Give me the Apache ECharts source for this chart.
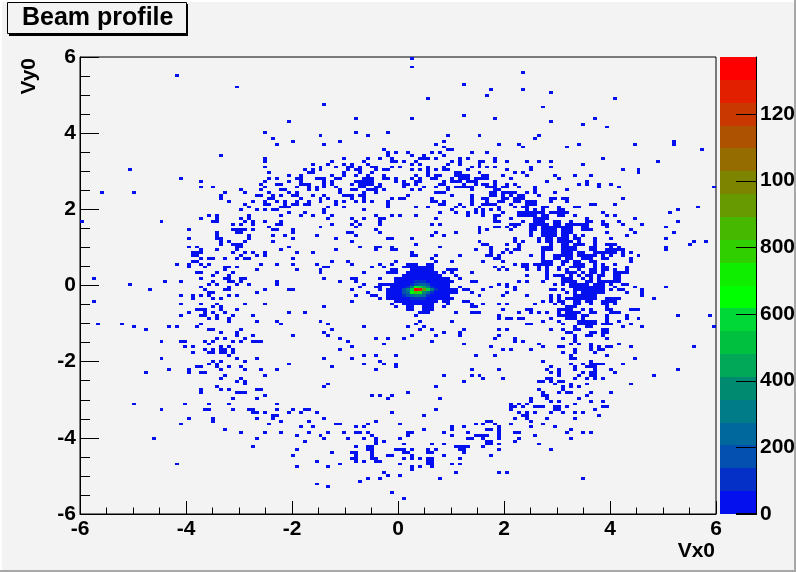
<!DOCTYPE html>
<html><head><meta charset="utf-8">
<style>html,body{margin:0;padding:0;background:#f3f3f3}#c{width:796px;height:572px}</style>
<script src="https://cdn.jsdelivr.net/npm/echarts@6/dist/echarts.min.js"></script>
</head><body><div id="c"></div>
<script>
const axisMin = -6, axisMax = 6, binCount = 160;
const colorMax = 1371;
const tickStep = 2;
const colorTickStep = 200;
const colorTicks = [0, 200, 400, 600, 800, 1000, 1200];
const titleText = 'Beam profile', xName = 'Vx0', yName = 'Vy0';
const palette = ['#0510ee','#0430c8','#0450b0','#00689c','#007b88','#008a70','#00a858','#00c040','#00d838','#00ff00','#10ee00','#30d000','#46b800','#669a00','#7d8500','#946c00','#ac5200','#c83800','#e22000','#ff0000'];

// Occupied histogram bins: [Vy0 bin, [Vx0 bins]]
const topArcRows = [
[159,[83]],[156,[83]],[150,[96]],[148,[103]],[146,[102]],[145,[87]],[143,[61]],[139,[96]],[138,[69,83,104]],[137,[52]],
[133,[46,69,77]],[132,[60,72,92,100]],[131,[48]],[130,[53,65,91]],[129,[49,61,89,105]],[128,[91]],[127,[76,92,93]],
[126,[77,79,82,88,90,98,102]],[125,[77,83,86,91]],[124,[46,66,72,75,78,85,86,87,89,95,97,104]],
[123,[46,63,71,78,79,81,84,93,95,100,101,104]],[122,[58,62,66,68,72,83,85,92,95,100]],
[121,[46,60,64,67,68,70,73,74,78,80,87,91,98,100,102,104]],[120,[56,58,60,67,69,70,74,76,77,83,85,87,89,91,92,97]],
[119,[47,57,58,66,70,73,87,94,95,100]],[118,[52,55,63,66,69,72,76,84,87,89,90,94,95,96,97,101,102]],
[117,[47,49,54,55,59,60,61,64,65,71,72,73,76,77,79,83,85,88,89,93,95,96,97,99,100,101,102]],
[116,[46,52,55,61,63,69,70,71,72,73,79,81,84,85,91,93,94,95,97,98,99,104]],
[115,[49,50,55,56,57,61,63,68,70,71,72,73,75,81,82,84,90,91,96,99,101,102,104]],
[114,[46,54,57,59,61,64,70,71,74,75,81,86,89,92,94,95,96,97,98,102,103,104]],
[113,[45,50,51,57,59,65,68,69,72,73,74,76,83,85,92,98,104,105]],[112,[47,52,54,65,71,74,89,90,91,103,104]],
[111,[45,48,50,53,54,58,61,66,67,68,70,71,82,93,98,103,104]],[110,[47,48,55,60,62,68,71,78,80,81,88,98,101,102]],
[109,[46,49,51,54,57,60,64,66,69,71,73,77,88,89,91,98,102,105]],[108,[46,47,51,53,54,56,57,64,77,90,91,95,98,101,102,103,104]],
[107,[50,51,52,62,66,77,84,87,94,96,100,105]],[106,[48,49,61,71,93,99,101,103,105]]
];
const farLeftRows = [
[153,[24]],[149,[39]],[125,[35]],[120,[12]],[117,[25]],[116,[30]],[115,[45]],[114,[30,33]],[113,[40,45]]
];
const rightLobeRows = [
[154,[111]],[148,[111]],[147,[118]],[145,[134]],[142,[116]],[138,[129]],[137,[118]],[136,[126]],[135,[132]],[132,[115]],[131,[114]],
[130,[149]],[129,[105,110,125,139,149]],[128,[111,122]],[127,[156]],[124,[131]],[123,[107,112,115,118,145]],[122,[126]],[121,[113,118]],
[120,[107,113,136,140]],[119,[109,111,140]],[118,[106,112,119,124,128]],[117,[108,120]],[116,[117,127]],
[115,[107,109,125,127,130,133]],[114,[106,107,110,114,130,135,159]],[113,[114,122]],[112,[106,107,108,109,112,114,119]],
[111,[106,108,110,111,115]],[110,[106,107,109,110,111,118,119,121,122,136]],[109,[105,106,109,110,112,113,114,118,122]],
[108,[108,112,113,114,128,129,134]],[107,[109,111,112,116,117,120,124,125,155]],[106,[105,112,114,116,120,121,150]],
[105,[106,110,111,112,113,114,115,116,118,119,120,121,122,131,148]],[104,[110,111,112,113,114,116,117,120,121,124,132,134]],
[103,[108,114,115,116,117,127,139]],[102,[105,111,114,115,116,119,120,123,127,128,131,135,150]],
[101,[108,109,110,113,114,115,116,117,119,120,122,123,124,125,126,127,131,132,136,141]],
[100,[107,109,113,114,116,117,118,119,120,121,122,123,126,127,132,147]],
[99,[108,113,114,116,117,118,119,121,122,123,126,127,128,138]],[98,[113,116,117,118,119,121,122,123,132,139,149]],
[97,[113,116,117,118,119,121,122,124,126,137]],[96,[109,115,117,118,120,121,122,124,125,129,133,147]],
[95,[109,111,115,117,118,120,121,122,123,125,129,154,157]],[94,[107,110,118,121,122,124,125,126,129,132,133,134,153]],
[93,[110,116,117,118,121,122,123,124,128,129,133,135,147]],
[92,[107,109,110,116,117,118,121,122,123,124,128,129,132,133,134,135,136,147]],
[91,[106,108,116,121,122,123,125,126,129,130,131,132,133,134,136,138]],
[90,[113,116,119,120,121,122,123,125,126,127,128,129,131,133,136,140]],
[89,[116,119,120,122,123,126,127,128,131,132,138]],[88,[106,116,117,118,121,122,124,125,128,129,138]],
[87,[109,111,112,114,115,116,117,118,121,124,125,126,129,131,134]],[86,[106,111,112,115,117,120,123,124,125,126,129,131,132,137]],
[85,[107,112,115,117,120,122,125,128,129,131,132,134,137]],[84,[117,122,123,124,126,128,129,131,134,135,136,137]],
[83,[112,117,119,120,121,123,125,127,128,130,131,134,135]],[82,[117,121,122,123,126,128,130,134,135]],
[81,[110,112,116,121,122,123,124,127,128,130,131,132,133,134,135]],[80,[105,107,119,121,123,124,125,126,127,129,130,131,133,136,137]],
[79,[107,109,123,124,125,126,127,128,129,130,131,134,139,147]],[78,[109,118,119,121,124,125,126,127,128,129,130,131,133,135,136,141]],
[77,[107,122,124,126,127,128,129,130,131,137,141]],[76,[106,112,118,120,124,125,126,127,128,129,141]],
[75,[118,120,122,123,124,125,126,127,128,129,132,133,134,135,144]],[74,[116,118,120,121,124,125,127,128,131,132,133,134]],
[73,[105,107,114,119,121,124,125,128,131,132,134]],[72,[122,123,124,132]],
[71,[106,112,113,120,121,122,123,126,128,132,133,138,139,140]],[70,[110,113,115,117,120,122,123,124,125,128,129,133,134,135]],
[69,[105,120,121,122,123,124,126,127,132,137,150,158]],[68,[107,108,110,111,118,122,123,124,126,132,137,140]],
[67,[116,120,125,126,127,128,129,132,135]],[66,[112,113,121,125,126,127,128,129,131,132,133,138]],
[65,[124,127,128,136,141,159]],[64,[105,107,118,121,124,125,131,132]],[63,[122,123,128,129,131,132]],[62,[105,124,127,128,131]],
[61,[109,121,124,132]],[60,[109,111,124]],[59,[115,123,125,128,135]],[58,[116,120,121,128,130,132,133,138,154]],
[57,[106,108,113,124,128,130,131]],[56,[121,124,129]],[55,[123,132]],[54,[123,124,139]],[53,[116,128]],
[52,[123,126,128,129,130,131,136]],[51,[118,124,127,128,129]],[50,[105,117,120,124,129,133,150]],[49,[118,120,126,128,129,134]],
[48,[120,125,128,129,144]],[47,[106,117,118,124,127,129,131]],[46,[115,116,118,120,121]],[45,[119,123,127,138]],[44,[121,123,125]],
[43,[115,121]],[42,[116,120,122,123,128,133]],[41,[116,117,127]],[40,[113,117,125]],[39,[113,118,120,128,131]],[38,[108,110,112,124]],
[37,[108,109,111,114,115,116,119,120,122,131,132]],[36,[108,119,120,129]],[35,[114,118,121,124,126]],[34,[130]],[33,[117,124]],
[32,[113]],[31,[116]],[30,[113,119]],[29,[123]],[28,[122,126,128]],[27,[114]],[26,[123]],[24,[115]],[22,[118]],[12,[126]]
];
const bottomArcRows = [
[42,[82]],[41,[73,75,78]],[40,[77,90,113]],[39,[113]],[38,[108,110,112]],[37,[109,111,114,115]],[36,[56,57,89,108]],
[35,[55,59,78,110,112,114]],[34,[86,111,112]],[33,[61,109,112]],[32,[57,74,102,103,113]],[31,[64,65,72,80,99,101,104,108]],
[30,[55,58,69,71,93,96,105,113]],[29,[86,93,102,103,105]],[28,[57,62,66,69,70,72,82,83,91,97,105,109,110]],
[27,[60,73,82,93,99,100,101,102,105,114]],[26,[61,67,71,74,80,97,98,101,105,110]],[25,[56,74,76,102,103,109]],
[24,[74,81,88,91,102,103,105,115]],[23,[69,72,73,94,95,96,97,101]],[22,[72,73,79,80,81,83,87,89,95,96,105]],
[21,[63,68,69,73,81,82,87,88,96]],[20,[69,73,77,78,83,91,103]],[19,[68,69,73,74,81,83,85,87,88,95]],
[18,[59,69,71,74,75,87,88]],[17,[65,80,87,88,93,95]],[16,[62,83,85,88]],[15,[83]],[14,[76,94,105,107]],[13,[77,80]],
[12,[72,75,90]],[11,[70]],[10,[59]],[9,[62]],[7,[78]],[5,[81]]
];
const leftLowerRows = [
[56,[28,32,33,35,36,38]],[55,[37]],[54,[20,39,44]],[53,[33,35,41]],[52,[32,34,52]],[51,[29,30,34,37,40]],[50,[22,27,35,41,45,49]],
[49,[16,27,30,31]],[48,[36,46]],[47,[35,40]],[46,[39,41]],[45,[41]],[44,[34]],[43,[30,35,37,44,45]],[42,[30,39,40,41]],[41,[46]],
[40,[38,44]],[38,[13,26,32,37,49]],[36,[20,31,32,38,42,43,49,53,56,57]],[35,[43,44,46,52,55]],[34,[48,49]],[33,[27,33,44,48]],
[32,[33,50,57]],[31,[25,47]],[30,[55]],[29,[36]],[28,[40,46,50,57]],[27,[54]],[26,[18,44]],[25,[56]],[23,[43]],[22,[54]],[20,[53]],
[17,[24]],[16,[54]]
];
const leftUpperRows = [
[112,[5,13,36,41]],[111,[35,44]],[110,[35]],[109,[37,43]],[108,[41]],[107,[42]],[106,[40,44,46,48,49]],[105,[52,56]],
[104,[32,34,42,50,55]],[103,[30,34,40,42]],[102,[0,20,33,34,41,43,46,50]],[101,[38,40,43,49,50]],[100,[47]],
[99,[27,38,39,40,41,43,48,49,53]],[98,[34,39,40,53]],[97,[34,42,48,51]],[96,[27,34,35,42,53]],[95,[35,37,41,48]],
[94,[35,38,39,40]],[93,[27,29,39,40,52]],[92,[30,34,39,50]],[91,[28,29,30,38,41,43,46,54]],[90,[28,29,40,44,46]],
[89,[30,32,33,36,39,41,42,53]],[88,[28,29]],[87,[24,27,30,32,45,49,53]],[86,[27,31,36,37,39]],[85,[36,44,54]],[84,[29,30,34,38]],
[83,[33,37]],[82,[3,30,36,37,40,41]],[81,[21,25,33,37,38,40,49]],[80,[12,32,34,39,42,49]],[79,[30,37]],[78,[17,31,36,37,46,52,53]],
[77,[32,33,44]],[76,[25,28,30,32,37,39]],[75,[28,33,35]],[74,[3]],[73,[25,30,34,41,46]],[72,[33,35]],[71,[29,30,31,35,39]],
[70,[27,31,33,36,52,56]],[69,[25,30,31,34,38,43]],[68,[32,34,37]],[67,[37,44,49]],[66,[4,10,30,50]],[65,[13,22,24,29]],
[64,[16,32,33,40]],[63,[35,39]],[62,[39,43,53]],[61,[34,36,41]],[60,[20,25,26,31,33,38,40,43,44,45]],[59,[32]],[58,[26,28,35,37]],
[57,[31,33,35,36,38]],[56,[28,32]],[55,[37]],[54,[20,39,44]]
];
const centerRows = [
[105,[56,61,90,94,97,99,101]],[104,[58,63,74,78,80,84,97,101,104,105]],[103,[62,68,71,75,76,89,104]],[102,[69,75,104,105]],
[101,[63,68,70,75,88,90]],[100,[60,69,100,104,105]],[99,[74,100,102]],[98,[67,68,75,89,94,100]],[97,[59,69,88,91]],[96,[64,77,78,83]],
[95,[68,100]],[94,[84,101,102]],[93,[70,74,75,78,90,103]],[92,[64,74,78,79,99,103]],[91,[58,83,103]],[90,[83,84,89,95,102,103,105]],
[89,[88,104,105]],[88,[63,67,79,89,93,101]],[87,[59,68,75,78,82,83,84,88]],[86,[61,62,73,76,81,82,104]],
[85,[60,78,79,92,93,94,105]],[84,[60,71,77,78,79,91,93,98]],[83,[94]],[82,[61,68,69,75,79,95]],[81,[65,69,79,98,99]],[80,[71,75,76,77,78,79,105]],
[79,[70,74,75,95,103]],[78,[68,75,94,96,97,101]],[77,[72,98]],[76,[69,73,74,100]],[75,[75,92,93]],[74,[68,91,92,96,97]],
[73,[78,92,98,101,105]],[72,[61,79,91,98,99]],[70,[56,94,98,99,100]],[69,[84,105]],[68,[105]],[67,[60,85,93]],[66,[62,84]],
[65,[71,82,86]],[64,[63,85,88,96,105]],[63,[61,91,95]],[62,[62,83,89,95,105]],[61,[65,74,77,81,104]],[60,[67,88]],[59,[76,96]],
[58,[68,103]],[57,[65]],[55,[71,74,79,99,104]],[54,[61,68]],[53,[75]],[52,[71,76,79]],[51,[63,79]],[50,[74,98,105]],
[48,[91,98,100]],[47,[101]],[46,[96]],[45,[62]],[44,[61,89]]
];
// Solid low-count block round the peak: [Vy0 bin, first Vx0 bin, last Vx0 bin]
const coreBlockRuns = [
[87,87,88],[86,83,88],[85,83,88],[84,82,89],[83,81,90],[82,80,92],[81,80,93],[80,80,92],[79,78,92],[78,77,93],[77,77,94],[76,77,92],[75,77,91],[74,79,89],[73,81,88],[72,82,83],[72,86,88],[71,82,83],[71,86,88],[70,85,87]
];
// Bright centre: [Vy0 bin, Vx0 bin, count]
const coreCounts = [
[81,84,80],[81,85,90],[81,86,90],
[80,83,90],[80,84,200],[80,85,270],[80,86,270],[80,87,180],
[79,82,110],[79,83,300],[79,84,620],[79,85,560],[79,86,420],[79,87,280],[79,88,80],
[78,81,160],[78,82,330],[78,83,580],[78,84,1371],[78,85,1300],[78,86,900],[78,87,600],[78,88,320],[78,89,130],
[77,81,150],[77,82,250],[77,83,680],[77,84,760],[77,85,720],[77,86,400],[77,87,210],[77,88,100],
[76,81,90],[76,82,140],[76,83,240],[76,84,280],[76,85,300],[76,86,220],[76,87,120],
[75,83,90],[75,84,100],[75,85,110],[75,86,80]
];

const binWidth = (axisMax - axisMin) / binCount;
const bandWidth = colorMax / palette.length;
const cells = new Map();
function put(iy, ix, n) { const k = ix * 1000 + iy; if (!cells.has(k) || cells.get(k)[2] < n) cells.set(k, [axisMin + (ix + 0.5) * binWidth, axisMin + (iy + 0.5) * binWidth, n]); }
[topArcRows, farLeftRows, rightLobeRows, bottomArcRows, leftLowerRows, leftUpperRows, centerRows].forEach(g => g.forEach(r => r[1].forEach(ix => put(r[0], ix, 1))));
coreBlockRuns.forEach(r => { for (let ix = r[1]; ix <= r[2]; ix++) put(r[0], ix, 20); });
coreCounts.forEach(r => put(r[0], r[1], r[2]));
const cellData = Array.from(cells.values());
const bandData = palette.map((c, i) => [i * bandWidth, (i + 1) * bandWidth, i]);
const bandIndex = v => Math.min(palette.length - 1, Math.floor(v / bandWidth));

const font = 'Liberation Sans';
const black = '#000';
const labelStyle = { color: black, fontFamily: font, fontWeight: 'bold', fontSize: 21 };

const chart = echarts.init(document.getElementById('c'), null, { renderer: 'canvas' });
chart.setOption({
  animation: false,
  backgroundColor: '#f3f3f3',
  title: { text: titleText, left: 22, top: 6, padding: 0, textStyle: { color: black, fontFamily: font, fontWeight: 'bold', fontSize: 25 }, z: 20 },
  grid: [
    { left: 80, top: 57, width: 636, height: 457, outerBoundsMode: 'none', show: true, borderColor: black, borderWidth: 1, backgroundColor: 'transparent' },
    { left: 720, top: 57, width: 36, height: 457, outerBoundsMode: 'none' }
  ],
  xAxis: [
    { type: 'value', gridIndex: 0, min: axisMin, max: axisMax, interval: tickStep, name: xName,
      nameLocation: 'end', nameGap: -1, nameTextStyle: { ...labelStyle, align: 'right', verticalAlign: 'top', padding: [27, 0, 0, 0] },
      axisLine: { onZero: false, lineStyle: { color: black } }, axisTick: { inside: true, length: 13, lineStyle: { color: black } },
      minorTick: { show: true, splitNumber: 4, length: 6.5, lineStyle: { color: black } }, splitLine: { show: false },
      axisLabel: { ...labelStyle, margin: 5, showMinLabel: true, showMaxLabel: true } },
    { type: 'value', gridIndex: 1, min: 0, max: 1, show: false }
  ],
  yAxis: [
    { type: 'value', gridIndex: 0, min: axisMin, max: axisMax, interval: tickStep, name: yName,
      nameLocation: 'end', nameGap: -1, nameRotate: 90, nameTextStyle: { ...labelStyle, align: 'right', verticalAlign: 'bottom', padding: [0, 0, 40, 0] },
      axisLine: { onZero: false, lineStyle: { color: black } }, axisTick: { inside: true, length: 19, lineStyle: { color: black } },
      minorTick: { show: true, splitNumber: 4, length: 10, lineStyle: { color: black } }, splitLine: { show: false },
      axisLabel: { ...labelStyle, margin: 4, showMinLabel: true, showMaxLabel: true } },
    { type: 'value', gridIndex: 1, position: 'right', min: 0, max: colorMax, interval: colorTickStep,
      axisLine: { show: true, onZero: false, lineStyle: { color: black } }, axisTick: { show: true, inside: true, length: 20, lineStyle: { color: black } },
      splitLine: { show: false }, axisLabel: { ...labelStyle, margin: 4, showMaxLabel: false, formatter: v => String(v) } }
  ],
  graphic: [
    { type: 'rect', z: -5, shape: { x: 9, y: 4, width: 179, height: 32 }, style: { fill: black } },
    { type: 'rect', z: -4, shape: { x: 7.5, y: 2.5, width: 179, height: 31 }, style: { fill: '#f3f3f3', stroke: black, lineWidth: 1 } },
    { type: 'rect', z: 50, shape: { x: 794, y: 0, width: 2, height: 572 }, style: { fill: '#a8a8a8' } },
    { type: 'rect', z: 50, shape: { x: 0, y: 570, width: 796, height: 2 }, style: { fill: '#a8a8a8' } },
    { type: 'rect', z: 50, shape: { x: 0, y: 0, width: 2, height: 570 }, style: { fill: '#fff' } },
    { type: 'rect', z: 50, shape: { x: 0, y: 0, width: 794, height: 2 }, style: { fill: '#fff' } }
  ],
  series: [
    { type: 'custom', xAxisIndex: 0, yAxisIndex: 0, data: cellData, clip: true, progressive: 0, silent: true, z: 3,
      encode: { x: 0, y: 1 },
      renderItem(params, api) {
        const a = api.coord([api.value(0) - binWidth / 2, api.value(1) + binWidth / 2]);
        const b = api.coord([api.value(0) + binWidth / 2, api.value(1) - binWidth / 2]);
        const x = Math.round(a[0]), y = Math.round(a[1]);
        return { type: 'rect', shape: { x, y, width: Math.round(b[0]) - x, height: Math.round(b[1]) - y }, style: { fill: palette[bandIndex(api.value(2))] } };
      } },
    { type: 'custom', xAxisIndex: 1, yAxisIndex: 1, data: bandData, silent: true, z: 1,
      encode: { y: [0, 1] },
      renderItem(params, api) {
        const a = api.coord([0, api.value(1)]);
        const b = api.coord([1, api.value(0)]);
        const y = Math.round(a[1]);
        return { type: 'rect', shape: { x: a[0], y, width: b[0] - a[0], height: Math.round(b[1]) - y }, style: { fill: palette[api.value(2)] } };
      } },
    { type: 'custom', xAxisIndex: 1, yAxisIndex: 1, data: colorTicks.map(v => [v]), silent: true, z: 6,
      encode: { y: 0 },
      renderItem(params, api) {
        const right = api.coord([1, api.value(0)]);
        const top = api.coord([1, colorMax]);
        const y = Math.min(Math.round(right[1]), Math.round(api.coord([1, 0])[1]) - 1);
        return { type: 'group', children: [
          { type: 'rect', shape: { x: right[0] - 20, y, width: 20, height: 1 }, style: { fill: black } },
          { type: 'rect', shape: { x: right[0], y: top[1], width: 1, height: right[1] - top[1] + 1 }, style: { fill: black } }
        ] };
      } }
  ]
});
</script></body></html>
